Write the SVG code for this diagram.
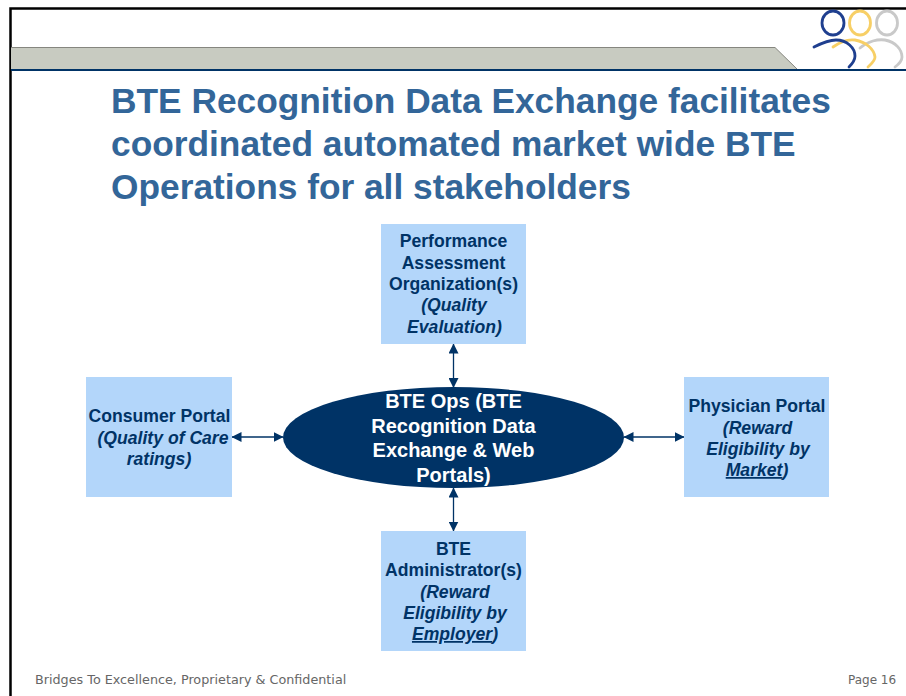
<svg xmlns="http://www.w3.org/2000/svg" width="906" height="696" viewBox="0 0 906 696">
<defs>
<marker id="ah" markerUnits="userSpaceOnUse" markerWidth="10" markerHeight="10" refX="9.5" refY="5" orient="auto-start-reverse"><path d="M0 0L10 5L0 10Z" fill="#003366"/></marker>
</defs>
<style>
text{font-family:"Liberation Sans",Arial,sans-serif;font-weight:bold;text-anchor:middle}
.t{font-size:35.3px;fill:#336699;text-anchor:start}
.n{font-size:17.6px;fill:#003366}
.i{font-style:italic}
.u{text-decoration:underline}
.o{font-size:20px;fill:#fff}
.f{font-family:"DejaVu Sans",Verdana,sans-serif;font-weight:normal;font-size:12.75px;fill:#666;text-anchor:start}
.b{fill:#b3d6fa}
.c{fill:none;stroke:#003366;stroke-width:1.3;marker-start:url(#ah);marker-end:url(#ah)}
.l{fill:none;stroke-width:2.8;stroke-linecap:round}
</style>
<rect width="906" height="696" fill="#fff"/>
<path d="M10.500 696V8.500H906" fill="none" stroke="#000" stroke-width="2.500"/>
<path d="M11 47.500H775L797 69H11Z" fill="#c8cbc1"/>
<path d="M11 47.500H775L797 69" fill="none" stroke="#85867f" stroke-width="1"/>
<rect x="11" y="69" width="895" height="2" fill="#003366"/>
<g id="logo">
<ellipse cx="833" cy="23" rx="11" ry="12" class="l" stroke="#1f3f8f"/>
<ellipse cx="860" cy="23" rx="10.500" ry="12" class="l" stroke="#f7cf66"/>
<ellipse cx="887" cy="23" rx="10.500" ry="12" class="l" stroke="#c9c9c9"/>
<path d="M860 48C868 41 878 39 885 40C896 42 902 50 902 57C902 61 899 64 895 67" class="l" stroke="#c9c9c9"/>
<path d="M833 47C840 42 848 39 855 40C866 42 874 49 875 57C875 61 871 64 868 67" class="l" stroke="#f7cf66"/>
<path d="M814 47C822 43 830 40 836 40C847 40 855 48 855 56C855 60 852 64 849 67" class="l" stroke="#1f3f8f"/>
</g>
<g id="title">
<text class="t" x="111" y="113">BTE Recognition Data Exchange facilitates</text>
<text class="t" x="111" y="156">coordinated automated market wide BTE</text>
<text class="t" x="111" y="199">Operations for all stakeholders</text>
</g>
<g id="node-ops">
<ellipse cx="453.500" cy="437.500" rx="170.500" ry="50.500" fill="#003366"/>
<text class="o" x="453.500" y="408">BTE Ops (BTE</text>
<text class="o" x="453.500" y="433">Recognition Data</text>
<text class="o" x="453.500" y="457">Exchange &amp; Web</text>
<text class="o" x="453.500" y="482">Portals)</text>
</g>
<g id="connectors">
<path class="c" d="M453.500 344V387.500"/>
<path class="c" d="M453.500 488V531"/>
<path class="c" d="M232 437H283"/>
<path class="c" d="M624 437H684"/>
</g>
<g id="node-pao">
<rect class="b" x="381" y="224" width="145" height="120"/>
<text class="n" x="453.500" y="247">Performance</text>
<text class="n" x="453.500" y="269">Assessment</text>
<text class="n" x="453.500" y="290">Organization(s)</text>
<text class="n i" x="454" y="311">(Quality</text>
<text class="n i" x="454.500" y="333">Evaluation)</text>
</g>
<g id="node-consumer">
<rect class="b" x="86" y="377" width="146" height="120"/>
<text class="n" x="159.500" y="422">Consumer Portal</text>
<text class="n i" x="163" y="444">(Quality of Care</text>
<text class="n i" x="159" y="465">ratings)</text>
</g>
<g id="node-physician">
<rect class="b" x="684" y="377" width="145" height="120"/>
<text class="n" x="757" y="412">Physician Portal</text>
<text class="n i" x="757.500" y="434">(Reward</text>
<text class="n i" x="758" y="455">Eligibility by</text>
<text class="n i" x="757" y="476"><tspan class="u">Market</tspan>)</text>
</g>
<g id="node-admin">
<rect class="b" x="381" y="531" width="145" height="120"/>
<text class="n" x="453.500" y="555">BTE</text>
<text class="n" x="453.500" y="576">Administrator(s)</text>
<text class="n i" x="455" y="598">(Reward</text>
<text class="n i" x="455" y="619">Eligibility by</text>
<text class="n i" x="455" y="640"><tspan class="u">Employer</tspan>)</text>
</g>
<g id="footer">
<text class="f" x="35" y="684">Bridges To Excellence, Proprietary &amp; Confidential</text>
<text class="f" x="848" y="684" style="font-size:12px">Page 16</text>
</g>
</svg>
